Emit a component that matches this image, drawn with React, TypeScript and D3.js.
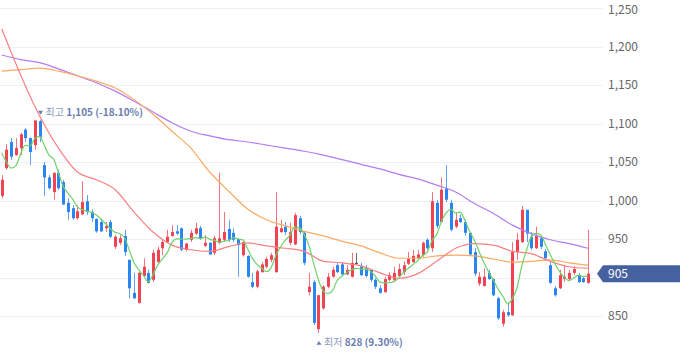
import React from 'react';
import * as d3 from 'd3';

// OHLC per daily candle (125 candles)
const opens = [1006,1042,1076,1059,1068,1092,1081,1072,1103,1046,1030,1011,1036,1024,997,990,977,982,999,985,976,972,964,972,940,945,954,923,880,867,902,906,897,920,938,946,954,960,964,936,949,957,964,941,945,932,945,949,963,958,950,929,928,894,888,907,914,923,907,959,966,945,943,977,958,881,894,833,860,888,901,916,917,904,901,919,914,912,910,897,886,881,897,897,902,907,918,920,925,929,949,938,997,972,1016,997,966,977,972,958,933,892,889,906,898,873,840,855,851,933,946,988,953,938,951,934,916,886,886,898,898,906,903,899,893];
const highs = [1033,1073,1081,1081,1088,1094,1082,1104,1105,1050,1033,1036,1040,1027,1003,994,994,1025,1007,988,977,975,972,975,955,955,962,923,906,907,925,910,936,940,949,962,968,968,965,945,962,971,967,955,946,954,1036,985,975,964,951,949,929,906,910,920,927,932,1011,975,972,971,984,980,959,906,897,877,890,906,914,919,919,916,932,932,919,916,910,899,890,901,907,914,918,921,933,936,936,947,951,1011,1001,1030,1046,1001,984,982,975,958,938,907,912,910,899,875,858,868,946,958,993,988,959,966,954,937,920,889,910,916,910,915,906,902,962];
const lows = [1003,1040,1053,1058,1059,1076,1046,1066,1076,1006,1014,1001,1014,994,975,975,975,981,981,972,958,959,959,951,937,942,928,873,872,866,901,892,894,919,929,945,953,955,934,934,946,955,949,940,929,929,943,946,946,946,901,927,900,886,886,906,912,920,906,958,955,942,942,956,916,877,838,828,858,886,900,906,903,903,900,917,902,900,894,885,879,880,895,894,901,903,916,919,923,927,936,933,964,971,998,960,964,971,954,929,902,889,888,897,876,845,836,849,850,923,945,946,936,937,937,923,892,875,885,894,896,903,893,893,892];
const closes = [1027,1066,1057,1068,1086,1081,1063,1104,1082,1030,1016,1036,1016,995,985,977,986,998,985,977,960,960,967,953,953,951,933,886,873,906,914,893,932,936,946,953,959,957,936,944,958,964,951,945,930,951,951,959,949,949,942,946,901,888,908,917,924,929,966,964,959,959,981,959,919,888,841,877,888,901,910,907,904,910,919,919,903,902,897,888,880,898,903,906,911,916,924,928,930,945,938,999,967,1014,1001,962,975,972,958,930,905,901,901,898,877,847,855,851,933,949,988,957,938,954,940,925,893,877,903,901,906,911,894,894,905];

// 5-day MA values before the 5th visible candle
const ma5Lead = [1062, 1050, 1042, 1045];
// Longer moving averages, read every 4th candle (index 0,4,...,124)
const maStep = 4;
const ma20 = [1223,1163,1110,1068,1037,1027,1014,985,959,942,936,934,940,945,941,938,934,921,919,915,906,899,905,921,938,944,942,934,931,921,914,912];
const ma60 = [1168,1170,1172,1168,1162,1155,1146,1131,1112,1090,1068,1037,1012,989,975,967,960,954,947,941,932,925,925,928,929,928,924,920,921,923,919,916];
const ma120 = [1189,1183,1179,1171,1162,1153,1142,1129,1115,1101,1090,1084,1079,1076,1072,1068,1064,1059,1053,1047,1041,1034,1028,1020,1011,996,983,968,957,949,944,938];

const tickValues = [850, 900, 950, 1000, 1050, 1100, 1150, 1200, 1250];

const W = 680;
const H = 358;
const PLOT_RIGHT = 603;
const FONT = '"Noto Sans CJK KR", "Noto Sans", sans-serif';

const UP = '#f04452';
const DOWN = '#2a84f2';
const FLAT = '#444444';

export default function App() {
  const n = closes.length;
  const x = d3.scaleLinear().domain([0, n - 1]).range([1.7, 588]);
  const y = d3.scaleLinear().domain([850, 1250]).range([316, 8]);

  const ma5 = closes.map((c, i) => (i < 4 ? ma5Lead[i] : d3.mean(closes.slice(i - 4, i + 1)) as number));

  const lineDaily = d3.line<number>().x((_, i) => x(i)).y((d) => y(d)).curve(d3.curveMonotoneX);
  const lineSampled = d3.line<number>().x((_, i) => x(i * maStep)).y((d) => y(d)).curve(d3.curveMonotoneX);

  const hiIdx = d3.maxIndex(highs);
  const loIdx = d3.minIndex(lows);
  const last = closes[n - 1];
  const fmt = d3.format(',');
  const hiPct = (((last - highs[hiIdx]) / highs[hiIdx]) * 100).toFixed(2);
  const loPct = (((last - lows[loIdx]) / lows[loIdx]) * 100).toFixed(2);

  const hx = x(hiIdx) + 1;
  const hy = y(highs[hiIdx]) - 7;
  const lx = x(loIdx) + 0.5;
  const ly = y(lows[loIdx]) + 10;
  const py = y(last);

  const bw = 3;

  return (
    <svg width={W} height={H} style={{ position: 'absolute', left: 0, top: 0, background: '#fff' }} fontFamily={FONT}>
      <defs>
        <clipPath id="plot">
          <rect x={0} y={0} width={PLOT_RIGHT} height={H} />
        </clipPath>
      </defs>
      {tickValues.map((t) => (
        <line key={'g' + t} x1={0} x2={PLOT_RIGHT} y1={Math.round(y(t)) + 0.5} y2={Math.round(y(t)) + 0.5} stroke="#eef0f6" strokeWidth={1} />
      ))}
      <g clipPath="url(#plot)">
        {closes.map((c, i) => {
          const o = opens[i];
          const col = c > o ? UP : c < o ? DOWN : FLAT;
          const cx = Math.round(x(i));
          const top = y(Math.max(o, c));
          const bot = y(Math.min(o, c));
          return (
            <g key={i}>
              <line x1={cx + 0.5} x2={cx + 0.5} y1={y(highs[i])} y2={y(lows[i])} stroke={col} strokeWidth={1} opacity={0.75} />
              <rect x={cx + 0.5 - bw / 2} y={top} width={bw} height={Math.max(1, bot - top)} fill={col} />
            </g>
          );
        })}
        <path d={lineSampled(ma120) || ''} fill="none" stroke="#b57bf7" strokeWidth={1.2} />
        <path d={lineSampled(ma60) || ''} fill="none" stroke="#fbaa62" strokeWidth={1.2} />
        <path d={lineSampled(ma20) || ''} fill="none" stroke="#fa8080" strokeWidth={1.2} />
        <path d={lineDaily(ma5) || ''} fill="none" stroke="#6fd26a" strokeWidth={1.2} />
      </g>
      {tickValues
        .filter((t) => Math.abs(y(t) - py) > 12)
        .map((t) => (
          <text key={'t' + t} x={608} y={Math.max(y(t), 9.5)} dy="0.35em" fontSize={12} fill="#666">
            {fmt(t)}
          </text>
        ))}
      {/* high annotation */}
      <path d={`M${hx - 2.5},${hy - 1.8} L${hx + 2.5},${hy - 1.8} L${hx},${hy + 2}Z`} fill="#6a7db0" />
      <text x={hx + 5} y={hy} dy="0.35em" fontSize={10}>
        <tspan fill="#8d9bbd">최고 </tspan>
        <tspan fill="#6a7db0" fontWeight="bold">{`${fmt(highs[hiIdx])} (${hiPct}%)`}</tspan>
      </text>
      {/* low annotation */}
      <path d={`M${lx - 2.5},${ly + 1.8} L${lx + 2.5},${ly + 1.8} L${lx},${ly - 2}Z`} fill="#6a7db0" />
      <text x={lx + 5} y={ly} dy="0.35em" fontSize={10}>
        <tspan fill="#8d9bbd">최저 </tspan>
        <tspan fill="#6a7db0" fontWeight="bold">{`${fmt(lows[loIdx])} (${loPct}%)`}</tspan>
      </text>
      {/* current price label */}
      <path d={`M597,${py} L603,${py - 8.5} L${W},${py - 8.5} L${W},${py + 8.5} L603,${py + 8.5} Z`} fill="#46619f" />
      <text x={608} y={py} dy="0.35em" fontSize={12} fill="#fff">
        {fmt(last)}
      </text>
    </svg>
  );
}
